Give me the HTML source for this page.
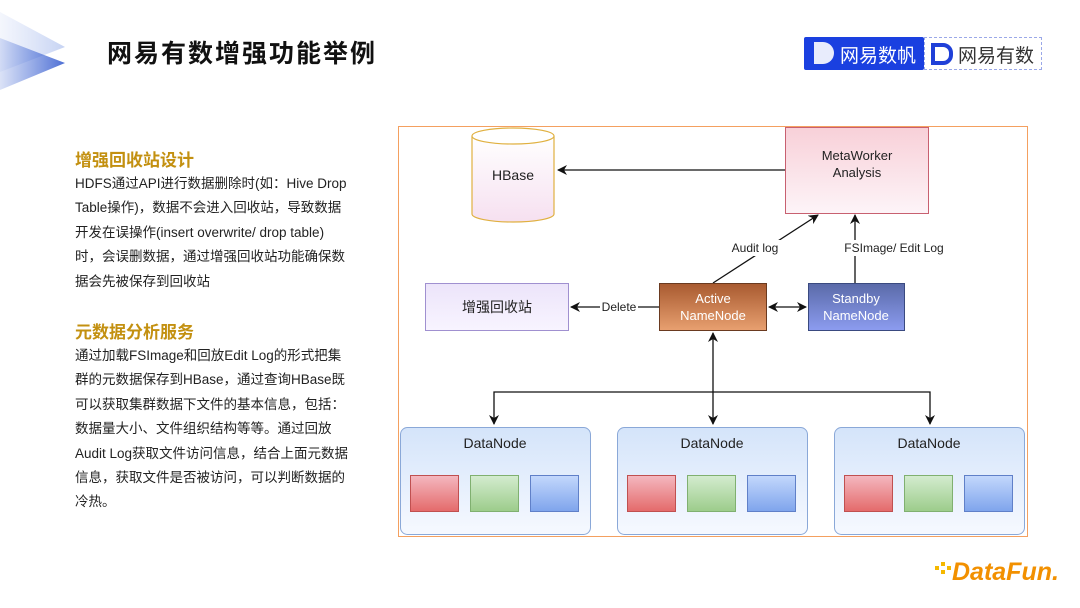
<!DOCTYPE html>
<html><head><meta charset="utf-8"><style>
body{margin:0;width:1080px;height:608px;overflow:hidden;background:#fff;font-family:"Liberation Sans","Noto Sans CJK SC",sans-serif;position:relative}
.abs{position:absolute}
h1{position:absolute;left:107px;top:34px;margin:0;font-size:25px;font-weight:bold;color:#111;letter-spacing:2px}
.hd{position:absolute;left:75px;font-size:17px;font-weight:bold;color:#c39010;margin:0}
.p{position:absolute;left:75px;font-size:13.5px;line-height:24.4px;color:#222;white-space:nowrap}
</style></head><body>
<svg class="abs" style="left:0;top:0" width="80" height="100">
<defs><linearGradient id="tg" x1="0" x2="1"><stop offset="0" stop-color="#4a6fd6" stop-opacity=".2"/><stop offset="1" stop-color="#3a5fd0" stop-opacity=".9"/></linearGradient>
<linearGradient id="tg2" x1="0" x2="1"><stop offset="0" stop-color="#c8d4f4" stop-opacity=".2"/><stop offset="1" stop-color="#b8c8f0" stop-opacity=".8"/></linearGradient></defs>
<polygon points="0,12 65,47 0,72" fill="url(#tg2)"/>
<polygon points="0,38 65,63 0,90" fill="url(#tg)"/>
</svg>
<h1>网易有数增强功能举例</h1>
<div class="abs" style="left:804px;top:37px;width:120px;height:33px;background:#1a40e0;border-radius:2px"></div>
<div class="abs" style="left:814px;top:42px;width:20px;height:22px;background:#fff;border-radius:0 11px 11px 0;opacity:.9"></div>
<div class="abs" style="left:840px;top:41px;font-size:19px;color:#fff">网易数帆</div>
<div class="abs" style="left:924px;top:37px;width:116px;height:31px;border:1px dashed #9aa8e8"></div>
<div class="abs" style="left:931px;top:43px;width:14px;height:14px;border:4px solid #2040d8;border-radius:0 10px 10px 0"></div>
<div class="abs" style="left:958px;top:41px;font-size:19px;color:#333">网易有数</div>

<div class="hd" style="top:146px">增强回收站设计</div>
<div class="p" style="top:172px">HDFS通过API进行数据删除时(如：Hive Drop<br>Table操作)，数据不会进入回收站，导致数据<br>开发在误操作(insert overwrite/ drop table)<br>时，会误删数据，通过增强回收站功能确保数<br>据会先被保存到回收站</div>
<div class="hd" style="top:318px">元数据分析服务</div>
<div class="p" style="top:344px">通过加载FSImage和回放Edit Log的形式把集<br>群的元数据保存到HBase，通过查询HBase既<br>可以获取集群数据下文件的基本信息，包括：<br>数据量大小、文件组织结构等等。通过回放<br>Audit Log获取文件访问信息，结合上面元数据<br>信息，获取文件是否被访问，可以判断数据的<br>冷热。</div>

<svg class="abs" style="left:0;top:0" width="1080" height="608" font-family="Liberation Sans, Noto Sans CJK SC, sans-serif">
<defs>
<marker id="a" markerWidth="10" markerHeight="10" refX="9" refY="5" orient="auto-start-reverse" markerUnits="userSpaceOnUse"><path d="M0,0 L10,5 L0,10 L3,5z" fill="#111"/></marker>
<linearGradient id="hb" x1="0" y1="0" x2="0" y2="1"><stop offset="0" stop-color="#fff"/><stop offset="1" stop-color="#f6e0f0"/></linearGradient>
<linearGradient id="mw" x1="0" y1="0" x2="0" y2="1"><stop offset="0" stop-color="#f8d0d8"/><stop offset="1" stop-color="#fdf4f8"/></linearGradient>
<linearGradient id="rc" x1="0" y1="0" x2="0" y2="1"><stop offset="0" stop-color="#ece4fa"/><stop offset="1" stop-color="#f8f4ff"/></linearGradient>
<linearGradient id="an" x1="0" y1="0" x2="0" y2="1"><stop offset="0" stop-color="#a85a30"/><stop offset="1" stop-color="#e8a070"/></linearGradient>
<linearGradient id="sn" x1="0" y1="0" x2="0" y2="1"><stop offset="0" stop-color="#5a6aa8"/><stop offset="1" stop-color="#8c9cf0"/></linearGradient>
<linearGradient id="dn" x1="0" y1="0" x2="0" y2="1"><stop offset="0" stop-color="#d4e4fa"/><stop offset="1" stop-color="#f6f9ff"/></linearGradient>
<linearGradient id="r" x1="0" y1="0" x2="0" y2="1"><stop offset="0" stop-color="#f4b8c0"/><stop offset="1" stop-color="#e46a6a"/></linearGradient>
<linearGradient id="g" x1="0" y1="0" x2="0" y2="1"><stop offset="0" stop-color="#d4ecd0"/><stop offset="1" stop-color="#9ccc8a"/></linearGradient>
<linearGradient id="b" x1="0" y1="0" x2="0" y2="1"><stop offset="0" stop-color="#c4d8fc"/><stop offset="1" stop-color="#7ea4ec"/></linearGradient>
</defs>
<rect x="398.5" y="126.5" width="629" height="410" fill="#fff" stroke="#f4a060" stroke-width="1"/>
<path d="M472,136 L472,214 A41,8 0 0 0 554,214 L554,136" fill="url(#hb)" stroke="#e0b040" stroke-width="1.2"/>
<ellipse cx="513" cy="136" rx="41" ry="8" fill="#fff" stroke="#e0b040" stroke-width="1.2"/>
<text x="513" y="180" font-size="14" text-anchor="middle" fill="#222">HBase</text>
<rect x="785.5" y="127.5" width="143" height="86" fill="url(#mw)" stroke="#c86070"/>
<text x="857" y="160" font-size="13" text-anchor="middle" fill="#222">MetaWorker</text>
<text x="857" y="177" font-size="13" text-anchor="middle" fill="#222">Analysis</text>
<line x1="785" y1="170" x2="558" y2="170" stroke="#111" stroke-width="1.3" marker-end="url(#a)"/>
<line x1="713" y1="283" x2="818" y2="215" stroke="#111" stroke-width="1.3" marker-end="url(#a)"/>
<line x1="855" y1="283" x2="855" y2="215" stroke="#111" stroke-width="1.3" marker-end="url(#a)"/>
<rect x="728" y="240" width="54" height="16" fill="#fff"/>
<text x="755" y="252" font-size="12" text-anchor="middle" fill="#222">Audit log</text>
<rect x="838" y="240" width="112" height="16" fill="#fff"/>
<text x="894" y="252" font-size="12" text-anchor="middle" fill="#222">FSImage/ Edit Log</text>
<rect x="425.5" y="283.5" width="143" height="47" fill="url(#rc)" stroke="#a090d0"/>
<text x="497" y="312" font-size="14" text-anchor="middle" fill="#222">增强回收站</text>
<rect x="659.5" y="283.5" width="107" height="47" fill="url(#an)" stroke="#6a3a20"/>
<text x="713" y="303" font-size="13" text-anchor="middle" fill="#fff">Active</text>
<text x="713" y="320" font-size="13" text-anchor="middle" fill="#fff">NameNode</text>
<rect x="808.5" y="283.5" width="96" height="47" fill="url(#sn)" stroke="#3a4a80"/>
<text x="856" y="303" font-size="13" text-anchor="middle" fill="#fff">Standby</text>
<text x="856" y="320" font-size="13" text-anchor="middle" fill="#fff">NameNode</text>
<line x1="659" y1="307" x2="571" y2="307" stroke="#111" stroke-width="1.3" marker-end="url(#a)"/>
<rect x="600" y="300" width="38" height="14" fill="#fff"/>
<text x="619" y="311" font-size="12" text-anchor="middle" fill="#222">Delete</text>
<line x1="769" y1="307" x2="806" y2="307" stroke="#111" stroke-width="1.3" marker-start="url(#a)" marker-end="url(#a)"/>
<line x1="713" y1="333" x2="713" y2="424" stroke="#111" stroke-width="1.3" marker-start="url(#a)" marker-end="url(#a)"/>
<polyline points="494,424 494,392 930,392 930,424" fill="none" stroke="#111" stroke-width="1.3" marker-start="url(#a)" marker-end="url(#a)"/>
<g>
<rect x="400.5" y="427.5" width="190" height="107" rx="7" fill="url(#dn)" stroke="#8aa8d8"/>
<text x="495" y="448" font-size="14" text-anchor="middle" fill="#222">DataNode</text>
<rect x="410.5" y="475.5" width="48" height="36" fill="url(#r)" stroke="#c05050"/>
<rect x="470.5" y="475.5" width="48" height="36" fill="url(#g)" stroke="#80b070"/>
<rect x="530.5" y="475.5" width="48" height="36" fill="url(#b)" stroke="#6080c8"/>
</g>
<g transform="translate(217,0)">
<rect x="400.5" y="427.5" width="190" height="107" rx="7" fill="url(#dn)" stroke="#8aa8d8"/>
<text x="495" y="448" font-size="14" text-anchor="middle" fill="#222">DataNode</text>
<rect x="410.5" y="475.5" width="48" height="36" fill="url(#r)" stroke="#c05050"/>
<rect x="470.5" y="475.5" width="48" height="36" fill="url(#g)" stroke="#80b070"/>
<rect x="530.5" y="475.5" width="48" height="36" fill="url(#b)" stroke="#6080c8"/>
</g>
<g transform="translate(434,0)">
<rect x="400.5" y="427.5" width="190" height="107" rx="7" fill="url(#dn)" stroke="#8aa8d8"/>
<text x="495" y="448" font-size="14" text-anchor="middle" fill="#222">DataNode</text>
<rect x="410.5" y="475.5" width="48" height="36" fill="url(#r)" stroke="#c05050"/>
<rect x="470.5" y="475.5" width="48" height="36" fill="url(#g)" stroke="#80b070"/>
<rect x="530.5" y="475.5" width="48" height="36" fill="url(#b)" stroke="#6080c8"/>
</g>
<g fill="#f5b800"><rect x="935" y="566" width="4" height="4"/><rect x="941" y="562" width="4" height="4"/><rect x="941" y="570" width="4" height="4"/><rect x="947" y="566" width="4" height="4"/></g>
<text x="952" y="580" font-size="25" font-weight="bold" font-style="italic" fill="#f29000">DataFun.</text>
</svg>
</body></html>
